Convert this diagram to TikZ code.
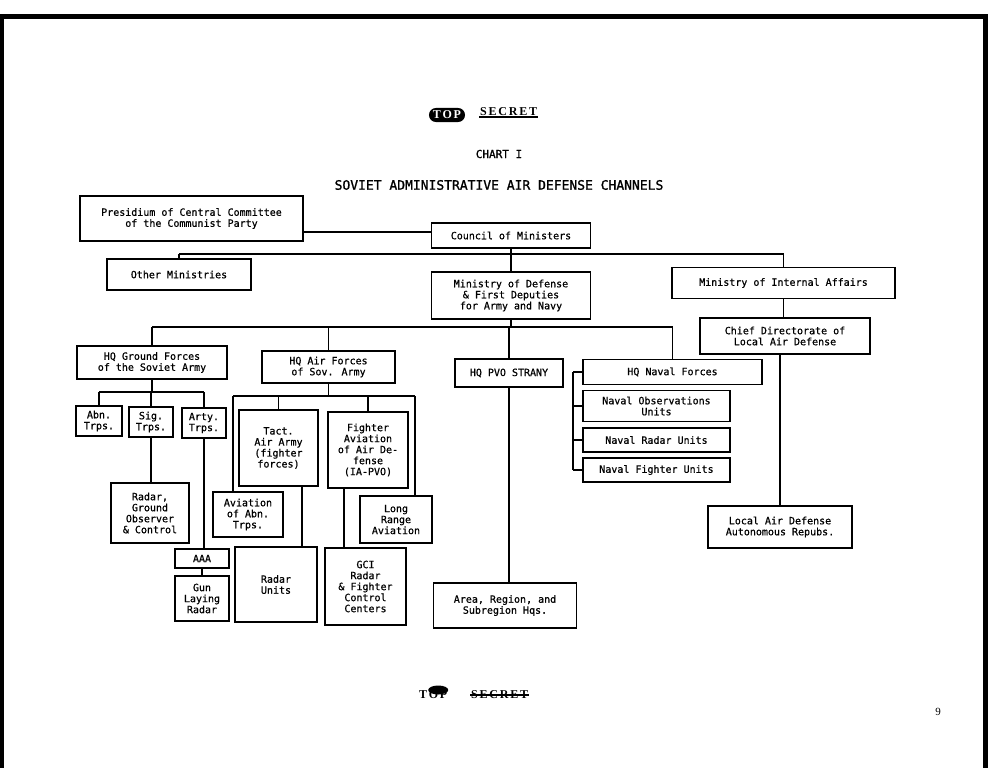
\documentclass[tikz,border=0pt]{standalone}
\usepackage{fontspec}
\newfontfamily\tw{DejaVu Sans Mono}[FakeBold=0.6]
\newfontfamily\twt{DejaVu Sans Mono}[FakeBold=1.2]
\newfontfamily\stampf{Liberation Serif}
\usetikzlibrary{calc}
\begin{document}
\begin{tikzpicture}[x=1pt,y=-1pt,
  box/.style={draw, line width=1.5pt, font=\tw\fontsize{10}{11}\selectfont, align=center, inner sep=0pt},
  sz/.style n args={2}{minimum width=#1pt, minimum height=#2pt},
  ln/.style={line width=1.5pt},
  stamp/.style={font=\stampf\bfseries\addfontfeature{LetterSpace=15}\fontsize{12}{14}\selectfont, inner sep=1pt}
]
\useasboundingbox (0,0) rectangle (994,768);
\fill[white] (0,0) rectangle (994,768);
% page frame
\fill[black] (0,14) rectangle (988,19);
\fill[black] (0,14) rectangle (4,768);
\fill[black] (983,14) rectangle (988,768);

% headings
\node[stamp, fill=black, text=white, rounded corners=7pt, inner xsep=4pt, inner ysep=3pt] (tt) at (447,115) {TOP};
\node[stamp, anchor=west] (ts) at (479,112) {SECRET};
\draw[line width=1.5pt] (ts.south west) -- (ts.south east);
\node[font=\twt\fontsize{11}{13}\selectfont] (chart) at (499,154) {CHART I};
\node[font=\twt\fontsize{13}{15}\selectfont] (title) at (499,185) {SOVIET ADMINISTRATIVE AIR DEFENSE CHANNELS};

% level 1
\node[box, sz={223}{45}] (pres) at (191.5,218.5) {Presidium of Central Committee\\of the Communist Party};
\node[box, sz={159}{25}] (council) at (511,235.5) {Council of Ministers};
\node[box, sz={144}{31}] (othmin) at (179,274.5) {Other Ministries};
\node[box, sz={159}{47}] (mod) at (511,295.5) {Ministry of Defense\\\& First Deputies\\for Army and Navy};
\node[box, sz={223}{31}] (intaff) at (783.5,283) {Ministry of Internal Affairs};
\node[box, sz={170}{36}] (chief) at (785,336) {Chief Directorate of\\Local Air Defense};
\node[box, sz={144}{42}] (local) at (780,527) {Local Air Defense\\Autonomous Repubs.};

\coordinate (h1) at (0,254);
\draw[ln] (pres.east |- 0,232) -- (council.west |- 0,232);
\draw[ln] (othmin.north |- h1) -- (intaff.north |- h1);
\draw[ln] (othmin.north |- h1) -- (othmin.north);
\draw[ln] (intaff.north |- h1) -- (intaff.north);
\draw[ln] (council.south) -- (mod.north);
\draw[ln] (intaff.south) -- (intaff.south |- chief.north);
\draw[ln] (chief.south -| local.north) -- (local.north);

% level 2
\coordinate (h2) at (0,327);
\node[box, sz={150}{33}] (hqg) at (152,362.5) {HQ Ground Forces\\of the Soviet Army};
\node[box, sz={133}{32}] (hqa) at (328.5,367) {HQ Air Forces\\of Sov. Army};
\node[box, sz={108}{28}] (pvo) at (509,373) {HQ PVO STRANY};
\node[box, sz={179}{25}] (hqn) at (672.5,372) {HQ Naval Forces};
\draw[ln] (hqg.north |- h2) -- (hqn.north |- h2);
\draw[ln] (hqg.north |- h2) -- (hqg.north);
\draw[ln] (hqa.north |- h2) -- (hqa.north);
\draw[ln] (hqn.north |- h2) -- (hqn.north);
\draw[ln] (mod.south) -- (mod.south |- h2);
\draw[ln] (pvo.north |- h2) -- (pvo.north);

% ground forces
\coordinate (h3) at (0,392);
\node[box, sz={46}{30}] (abn) at (99,421) {Abn.\\Trps.};
\node[box, sz={44}{30}] (sig) at (151,422) {Sig.\\Trps.};
\node[box, sz={44}{30}] (arty) at (204,423) {Arty.\\Trps.};
\node[box, sz={78}{60}] (radar) at (150,513) {Radar,\\Ground\\Observer\\\& Control};
\node[box, sz={54}{19}] (aaa) at (202,558.5) {AAA};
\node[box, sz={54}{45}] (gun) at (202,598.5) {Gun\\Laying\\Radar};
\draw[ln] (hqg.south) -- (hqg.south |- h3);
\draw[ln] (abn.north |- h3) -- (arty.north |- h3);
\draw[ln] (abn.north |- h3) -- (abn.north);
\draw[ln] (sig.north |- h3) -- (sig.north);
\draw[ln] (arty.north |- h3) -- (arty.north);
\draw[ln] (sig.south) -- (sig.south |- radar.north);
\draw[ln] (arty.south) -- (arty.south |- aaa.north);
\draw[ln] (aaa.south) -- (gun.north);

% air forces
\coordinate (h4) at (0,396);
\coordinate (al) at (233,396);
\coordinate (ar) at (415,396);
\node[box, sz={79}{76}] (tact) at (278.5,448) {Tact.\\Air Army\\(fighter\\forces)};
\node[box, sz={80}{76}] (fight) at (368,450) {Fighter\\Aviation\\of Air De-\\fense\\(IA-PVO)};
\node[box, sz={70}{45}] (aviabn) at (248,514.5) {Aviation\\of Abn.\\Trps.};
\node[box, sz={82}{75}] (radu) at (276,584.5) {Radar\\Units};
\node[box, sz={81}{77}] (gci) at (365.5,586.5) {GCI\\Radar\\\& Fighter\\Control\\Centers};
\node[box, sz={72}{47}] (longr) at (396,519.5) {Long\\Range\\Aviation};
\draw[ln] (hqa.south) -- (hqa.south |- h4);
\draw[ln] (al) -- (ar);
\draw[ln] (al) -- (al |- aviabn.north);
\draw[ln] (ar) -- (ar |- longr.north);
\draw[ln] (tact.north |- h4) -- (tact.north);
\draw[ln] (fight.north |- h4) -- (fight.north);
\draw[ln] ([xshift=23.5pt]tact.south) -- ([xshift=23.5pt]tact.south |- radu.north);
\draw[ln] ([xshift=-24pt]fight.south) -- ([xshift=-24pt]fight.south |- gci.north);

% PVO
\node[box, sz={143}{45}] (area) at (505,605.5) {Area, Region, and\\Subregion Hqs.};
\draw[ln] (pvo.south) -- (pvo.south |- area.north);

% naval
\node[box, sz={147}{31}] (nobs) at (656.5,406) {Naval Observations\\Units};
\node[box, sz={147}{24}] (nrad) at (656.5,440) {Naval Radar Units};
\node[box, sz={147}{24}] (nfig) at (656.5,470) {Naval Fighter Units};
\coordinate (nb) at (573,0);
\draw[ln] (nb |- hqn.west) -- (nb |- nfig.west);
\draw[ln] (nb |- hqn.west) -- (hqn.west);
\draw[ln] (nb |- nobs.west) -- (nobs.west);
\draw[ln] (nb |- nrad.west) -- (nrad.west);
\draw[ln] (nb |- nfig.west) -- (nfig.west);

% footer
\node[stamp, anchor=west] (bt) at (418,695) {TOP};
\fill[black] ($(bt.center)+(5,-5)$) ellipse (10pt and 4.5pt);
\node[stamp, anchor=west] (bs) at (470,695) {SECRET};
\draw[line width=2pt] (bs.west) -- (bs.east);
\node[font=\stampf\fontsize{11}{13}\selectfont] (pg) at (938,712) {9};
\end{tikzpicture}
\end{document}
